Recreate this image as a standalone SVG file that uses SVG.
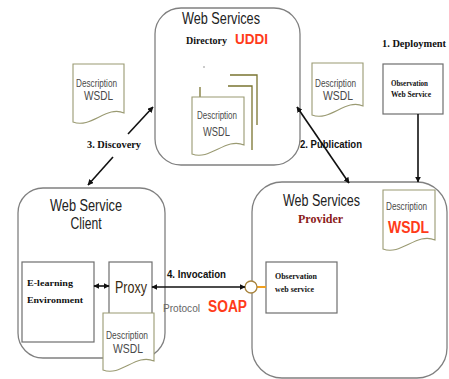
<svg xmlns="http://www.w3.org/2000/svg" width="449" height="379" viewBox="0 0 449 379">
  <style>
    .frame { fill: #ffffff; stroke: #808080; stroke-width: 1.3; }
    .box { fill: #ffffff; stroke: #6e6e6e; stroke-width: 1.2; }
    .doc { fill: #ffffff; stroke: #9a9a72; stroke-width: 1.1; }
    .page { fill: none; stroke: #7a7430; stroke-width: 1.3; }
    .conn { fill: none; stroke: #111111; stroke-width: 1.6; }
    .title { font-family: "Liberation Sans", Arial, sans-serif; font-size: 16px; fill: #222222; }
    .dtxt { font-family: "Liberation Sans", Arial, sans-serif; font-size: 11px; fill: #4a4a4a; }
    .wsdl { font-family: "Liberation Sans", Arial, sans-serif; font-size: 13px; fill: #4a4a4a; }
    .serif { font-family: "Liberation Serif", "Times New Roman", serif; font-weight: bold; fill: #111111; }
    .lbl { font-family: "Liberation Sans", Arial, sans-serif; font-weight: bold; font-size: 10px; fill: #111111; }
    .red { font-family: "Liberation Sans", Arial, sans-serif; font-weight: bold; fill: #ff3b1a; }
  </style>
  <defs>
    <marker id="arrow" viewBox="0 0 10 10" refX="9" refY="5" markerWidth="6" markerHeight="6" orient="auto-start-reverse" markerUnits="userSpaceOnUse">
      <path d="M0,0 L10,5 L0,10 Z" fill="#111111"/>
    </marker>
  </defs>

  <!-- Directory (UDDI) -->
  <g id="directory">
    <rect class="frame" x="155" y="8" width="145" height="157" rx="26"/>
    <text class="title" x="182" y="24" textLength="78" lengthAdjust="spacingAndGlyphs">Web Services</text>
    <text class="serif" x="186" y="44" font-size="10">Directory</text>
    <text class="red" x="235" y="44" font-size="15" textLength="33" lengthAdjust="spacingAndGlyphs">UDDI</text>
    <circle cx="204" cy="67" r="0.8" fill="#888888"/>
    <!-- stacked description pages -->
    <polyline class="page" points="230,75 257,75 257,125"/>
    <polyline class="page" points="228,86 252,86 252,150"/>
    <line class="page" x1="200" y1="87" x2="200" y2="97"/>
    <path class="doc" d="M192,97 H244 V145 C226,137 210,161 192,154 Z"/>
    <text class="dtxt" x="197" y="119" textLength="40" lengthAdjust="spacingAndGlyphs">Description</text>
    <text class="wsdl" x="203" y="136" textLength="27" lengthAdjust="spacingAndGlyphs">WSDL</text>
  </g>

  <!-- Loose description near discovery -->
  <g id="doc-discovery">
    <path class="doc" d="M73,64 H124 V113 C107,105 91,129 73,122 Z"/>
    <text class="dtxt" x="76" y="87" textLength="41" lengthAdjust="spacingAndGlyphs">Description</text>
    <text class="wsdl" x="84" y="100" textLength="29" lengthAdjust="spacingAndGlyphs">WSDL</text>
  </g>

  <!-- Loose description near publication -->
  <g id="doc-publication">
    <path class="doc" d="M312,63 H363 V106 C346,98 330,122 312,115 Z"/>
    <text class="dtxt" x="315" y="87" textLength="41" lengthAdjust="spacingAndGlyphs">Description</text>
    <text class="wsdl" x="323" y="100" textLength="30" lengthAdjust="spacingAndGlyphs">WSDL</text>
  </g>

  <!-- Deployed observation service -->
  <g id="deployment">
    <text class="serif" x="382" y="47" font-size="10" textLength="64" lengthAdjust="spacingAndGlyphs">1. Deployment</text>
    <rect class="box" x="383" y="64" width="60" height="50"/>
    <text class="serif" x="391" y="86" font-size="8" textLength="37" lengthAdjust="spacingAndGlyphs">Observation</text>
    <text class="serif" x="391" y="97" font-size="8" textLength="40" lengthAdjust="spacingAndGlyphs">Web Service</text>
  </g>

  <!-- Provider -->
  <g id="provider">
    <rect class="frame" x="252" y="182" width="195" height="196" rx="30"/>
    <text class="title" x="283" y="206" textLength="77" lengthAdjust="spacingAndGlyphs">Web Services</text>
    <text class="serif" x="298" y="223" font-size="12" style="fill:#8b1a1a">Provider</text>
    <path class="doc" d="M383,190 H435 V240 C417,232 401,256 383,249 Z"/>
    <text class="dtxt" x="386" y="210" textLength="41" lengthAdjust="spacingAndGlyphs">Description</text>
    <text class="red" x="388" y="233" font-size="17" textLength="41" lengthAdjust="spacingAndGlyphs">WSDL</text>
    <rect class="box" x="266" y="262" width="71" height="51"/>
    <text class="serif" x="275" y="279" font-size="8" textLength="42" lengthAdjust="spacingAndGlyphs">Observation</text>
    <text class="serif" x="275" y="292" font-size="8" textLength="39" lengthAdjust="spacingAndGlyphs">web service</text>
    <line x1="257" y1="287" x2="266" y2="287" stroke="#f0a020" stroke-width="2"/>
    <circle cx="251" cy="287" r="6" fill="#ffffff" stroke="#a8843e" stroke-width="1.3"/>
  </g>

  <!-- Client -->
  <g id="client">
    <rect class="frame" x="18" y="188" width="147" height="170" rx="25"/>
    <text class="title" x="86" y="211" text-anchor="middle" textLength="72" lengthAdjust="spacingAndGlyphs">Web Service</text>
    <text class="title" x="86" y="229" text-anchor="middle" textLength="31" lengthAdjust="spacingAndGlyphs">Client</text>
    <rect class="box" x="22" y="262" width="72" height="80"/>
    <text class="serif" x="27" y="286" font-size="9" textLength="46" lengthAdjust="spacingAndGlyphs">E-learning</text>
    <text class="serif" x="27" y="303" font-size="9" textLength="56" lengthAdjust="spacingAndGlyphs">Environment</text>
    <rect class="box" x="109" y="262" width="43" height="55"/>
    <text x="115" y="293" font-family="Liberation Sans, Arial, sans-serif" font-size="16" fill="#3a2a10" textLength="32" lengthAdjust="spacingAndGlyphs">Proxy</text>
    <path class="doc" d="M103,313 H154 V361 C136,353 121,377 103,370 Z"/>
    <text class="dtxt" x="106" y="339" textLength="42" lengthAdjust="spacingAndGlyphs">Description</text>
    <text class="wsdl" x="113" y="353" textLength="30" lengthAdjust="spacingAndGlyphs">WSDL</text>
  </g>

  <!-- Connectors -->
  <g id="connectors">
    <!-- discovery, broken around its label -->
    <line class="conn" x1="113" y1="157" x2="88" y2="185" marker-end="url(#arrow)"/>
    <line class="conn" x1="128" y1="134" x2="153" y2="107" marker-end="url(#arrow)"/>
    <!-- publication -->
    <line class="conn" x1="297" y1="107" x2="349" y2="183" marker-start="url(#arrow)" marker-end="url(#arrow)"/>
    <!-- deployment -->
    <line class="conn" x1="418" y1="114" x2="418" y2="182" marker-end="url(#arrow)"/>
    <!-- environment to proxy -->
    <line class="conn" x1="94" y1="286" x2="109" y2="286" stroke-width="2" marker-start="url(#arrow)" marker-end="url(#arrow)"/>
    <!-- invocation -->
    <line class="conn" x1="152" y1="287" x2="245" y2="287" stroke-width="2" marker-start="url(#arrow)" marker-end="url(#arrow)"/>
  </g>

  <!-- Connector labels -->
  <g id="labels">
    <text class="serif" x="87" y="148" font-size="10" textLength="54" lengthAdjust="spacingAndGlyphs">3. Discovery</text>
    <text class="lbl" x="300" y="148" textLength="62" lengthAdjust="spacingAndGlyphs">2. Publication</text>
    <text class="lbl" x="167" y="278" font-size="11" textLength="59" lengthAdjust="spacingAndGlyphs">4. Invocation</text>
    <text x="163" y="312" font-family="Liberation Sans, Arial, sans-serif" font-size="10" fill="#666666" textLength="37" lengthAdjust="spacingAndGlyphs">Protocol</text>
    <text class="red" x="208" y="312" font-size="16" textLength="39" lengthAdjust="spacingAndGlyphs">SOAP</text>
  </g>
</svg>
